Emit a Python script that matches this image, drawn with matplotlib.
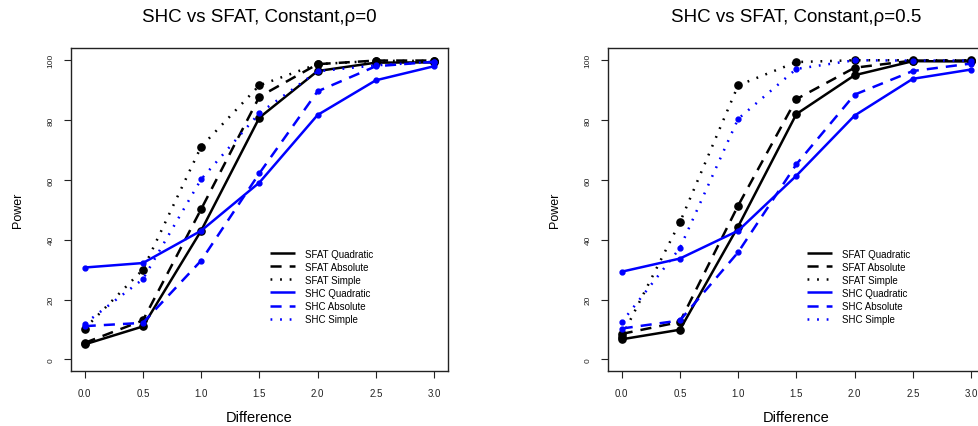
import matplotlib
matplotlib.use("Agg")
import matplotlib.pyplot as plt
import numpy as np

plt.rcParams['font.family'] = ['Liberation Sans', 'DejaVu Sans']
plt.rcParams['lines.scale_dashes'] = False

difference = [0.0, 0.5, 1.0, 1.5, 2.0, 2.5, 3.0]
series_names = ["SFAT Quadratic", "SFAT Absolute", "SFAT Simple",
                "SHC Quadratic", "SHC Absolute", "SHC Simple"]

# Panel 1: rho = 0
rho0_sfat_quadratic = [5.0, 11.0, 43.0, 80.8, 96.4, 99.2, 99.3]
rho0_sfat_absolute = [5.5, 13.0, 50.2, 87.8, 98.7, 99.9, 99.9]
rho0_sfat_simple = [10.3, 30.0, 71.1, 91.6, 98.7, 99.8, 99.8]
rho0_shc_quadratic = [30.7, 32.2, 43.0, 59.1, 81.7, 93.3, 98.0]
rho0_shc_absolute = [11.1, 12.2, 33.0, 62.2, 89.6, 98.0, 99.5]
rho0_shc_simple = [11.9, 26.8, 60.2, 82.3, 96.3, 98.3, 99.5]

# Panel 2: rho = 0.5
rho5_sfat_quadratic = [6.7, 9.9, 44.4, 82.0, 95.0, 99.7, 99.6]
rho5_sfat_absolute = [8.5, 12.5, 51.4, 87.0, 97.5, 99.9, 99.9]
rho5_sfat_simple = [7.5, 45.8, 91.6, 99.4, 100.0, 100.0, 100.0]
rho5_shc_quadratic = [29.3, 33.7, 43.0, 61.4, 81.5, 93.8, 96.9]
rho5_shc_absolute = [10.3, 13.0, 35.8, 65.2, 88.5, 96.4, 98.9]
rho5_shc_simple = [12.4, 37.2, 80.4, 97.1, 100.0, 99.9, 99.9]

titles = ["SHC vs SFAT, Constant,\u03c1=0", "SHC vs SFAT, Constant,\u03c1=0.5"]
x_ticks = [0.0, 0.5, 1.0, 1.5, 2.0, 2.5, 3.0]
x_ticklabels = ["0.0", "0.5", "1.0", "1.5", "2.0", "2.5", "3.0"]
y_ticks = [0, 20, 40, 60, 80, 100]

panels = [
    [rho0_sfat_quadratic, rho0_sfat_absolute, rho0_sfat_simple,
     rho0_shc_quadratic, rho0_shc_absolute, rho0_shc_simple],
    [rho5_sfat_quadratic, rho5_sfat_absolute, rho5_sfat_simple,
     rho5_shc_quadratic, rho5_shc_absolute, rho5_shc_simple],
]

colors = ["black", "black", "black", "#0000FF", "#0000FF", "#0000FF"]
styles = ["-", (0, (8, 5.8)), (0, (1.3, 5.6)), "-", (0, (8, 5.8)), (0, (1.3, 5.6))]
msizes = [5.2, 5.2, 5.2, 3.5, 3.5, 3.5]

W, H = 979, 427
fig = plt.figure(figsize=(W / 100, H / 100), dpi=100)

ax_left_px = [70.7, 607.7]
ax_w_px = 377.3
ax_top_px = 49.3
ax_bot_px = 372.3
ax_h_px = ax_bot_px - ax_top_px
legend_x_px = [270.0, 806.7]

for i in range(2):
    ax = fig.add_axes([ax_left_px[i] / W, (H - ax_bot_px) / H, ax_w_px / W, ax_h_px / H])
    for j, vals in enumerate(panels[i]):
        ax.plot(difference, vals, color=colors[j], linestyle=styles[j], lw=1.8,
                marker="o", ms=msizes[j], label=series_names[j],
                dash_capstyle="butt", solid_capstyle="butt")
    ax.set_xlim(-0.12, 3.12)
    ax.set_ylim(-4, 104)
    ax.set_xticks(x_ticks)
    ax.set_xticklabels(x_ticklabels)
    ax.set_yticks(y_ticks)
    ax.tick_params(axis="x", direction="out", length=5, width=0.8, labelsize=7, pad=7,
                   color="#222222", labelcolor="#222222")
    ax.tick_params(axis="y", direction="out", length=5, width=0.8, labelsize=6, pad=9,
                   color="#222222", labelcolor="#222222", labelrotation=90)
    for lab in ax.get_yticklabels():
        lab.set_verticalalignment("center")
        lab.set_horizontalalignment("center")
    for sp in ax.spines.values():
        sp.set_linewidth(1.0)
        sp.set_color("#222222")
    ax.set_title(titles[i], fontsize=13.5, pad=20)
    ax.text(0.5, -50.0 / ax_h_px, "Difference", transform=ax.transAxes,
            ha="center", va="baseline", fontsize=10.5)
    ax.text(-53.0 / ax_w_px, 0.5, "Power", transform=ax.transAxes, rotation=90,
            ha="center", va="center", fontsize=9)
    lx = (legend_x_px[i] - ax_left_px[i]) / ax_w_px
    ly = (ax_bot_px - 249.5) / ax_h_px
    ax.legend(loc="upper left", bbox_to_anchor=(lx, ly), frameon=False,
              fontsize=7, handlelength=2.6, handletextpad=1.0, borderpad=0,
              borderaxespad=0, labelspacing=0.32, markerscale=0.0001)

fig.savefig("out.png", dpi=100)
